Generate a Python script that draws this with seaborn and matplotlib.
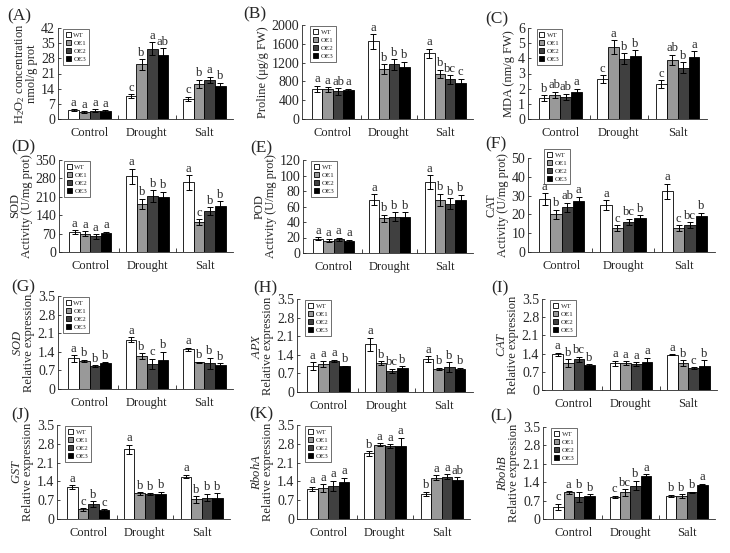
"""Physiological indices and gene expression of WT and OE lines under control, drought and salt."""
import matplotlib
matplotlib.use("Agg")
import matplotlib.pyplot as plt
import numpy as np
import pandas as pd
import seaborn as sns

sns.set_style("ticks")
plt.rcParams["font.family"] = ["Liberation Serif", "DejaVu Serif"]
plt.rcParams["mathtext.fontset"] = "custom"
plt.rcParams["mathtext.rm"] = "Liberation Serif"
plt.rcParams["mathtext.it"] = "Liberation Serif:italic"

TREATMENTS = ["Control", "Drought", "Salt"]
LINES = ["WT", "OE1", "OE2", "OE3"]
PALETTE = ["white", "#999999", "#404040", "black"]

# values per treatment: [WT, OE1, OE2, OE3]
h2o2_mean = [[4.0, 3.1, 3.9, 3.7], [10.5, 25.2, 32.4, 29.6], [9.3, 16.1, 18.1, 15.3]]
h2o2_err = [[0.5, 0.4, 0.5, 0.4], [1.0, 2.5, 3.0, 3.0], [1.0, 2.0, 1.5, 1.5]]
h2o2_sig = [["a", "a", "a", "a"], ["c", "b", "a", "ab"], ["c", "b", "a", "b"]]

proline_mean = [[645, 631, 589, 624], [1650, 1057, 1163, 1113], [1397, 957, 844, 773]]
proline_err = [[60, 50, 70, 20], [150, 110, 110, 110], [100, 90, 90, 80]]
proline_sig = [["a", "a", "ab", "a"], ["a", "b", "b", "b"], ["a", "b", "bc", "c"]]

mda_mean = [[1.37, 1.59, 1.48, 1.79], [2.62, 4.74, 3.97, 4.15], [2.29, 3.88, 3.38, 4.08]]
mda_err = [[0.2, 0.2, 0.2, 0.2], [0.25, 0.45, 0.35, 0.4], [0.25, 0.35, 0.35, 0.4]]
mda_sig = [["b", "ab", "ab", "a"], ["c", "a", "b", "b"], ["c", "ab", "b", "a"]]

sod_mean = [[75, 70, 59, 71], [288, 183, 214, 209], [265, 114, 155, 176]]
sod_err = [[8, 8, 8, 6], [28, 20, 22, 20], [28, 10, 15, 18]]
sod_sig = [["a", "a", "a", "a"], ["a", "b", "b", "b"], ["a", "c", "b", "b"]]

pod_mean = [[18.4, 16.0, 18.0, 15.0], [68.6, 44.6, 46.7, 46.7], [91.3, 68.6, 63.4, 68.1]]
pod_err = [[2, 2, 2, 2], [7, 5, 6, 6], [9, 8, 7, 7]]
pod_sig = [["a", "a", "a", "a"], ["a", "b", "b", "b"], ["a", "b", "b", "b"]]

cat_mean = [[28.2, 20.0, 23.8, 26.9], [25.1, 12.8, 16.1, 18.0], [32.3, 12.8, 14.4, 19.0]]
cat_err = [[3.0, 2.5, 2.5, 2.5], [2.5, 1.5, 1.5, 1.5], [4.0, 1.5, 1.5, 2.0]]
cat_sig = [["a", "b", "ab", "a"], ["a", "c", "bc", "b"], ["a", "c", "bc", "b"]]

sod_expr_mean = [[1.15, 1.05, 0.86, 0.99], [1.86, 1.24, 0.94, 1.10], [1.50, 1.00, 0.96, 0.90]]
sod_expr_err = [[0.12, 0.05, 0.03, 0.02], [0.08, 0.10, 0.20, 0.30], [0.06, 0.02, 0.22, 0.06]]
sod_expr_sig = [["a", "b", "b", "b"], ["a", "b", "c", "b"], ["a", "b", "b", "b"]]

apx_mean = [[0.98, 1.06, 1.17, 0.96], [1.79, 1.08, 0.80, 0.91], [1.24, 0.88, 0.95, 0.86]]
apx_err = [[0.15, 0.12, 0.05, 0.02], [0.25, 0.08, 0.08, 0.05], [0.10, 0.04, 0.18, 0.05]]
apx_sig = [["a", "a", "a", "b"], ["a", "b", "bc", "b"], ["a", "b", "b", "b"]]

cat_expr_mean = [[1.37, 1.03, 1.18, 0.96], [1.03, 1.03, 0.99, 1.09], [1.35, 1.03, 0.83, 0.94]]
cat_expr_err = [[0.06, 0.15, 0.10, 0.03], [0.10, 0.08, 0.08, 0.15], [0.02, 0.12, 0.04, 0.20]]
cat_expr_sig = [["a", "b", "bc", "b"], ["a", "a", "a", "a"], ["a", "b", "c", "b"]]

gst_mean = [[1.18, 0.36, 0.56, 0.33], [2.59, 0.95, 0.92, 0.94], [1.58, 0.73, 0.80, 0.80]]
gst_err = [[0.08, 0.05, 0.10, 0.04], [0.18, 0.05, 0.04, 0.08], [0.06, 0.12, 0.14, 0.15]]
gst_sig = [["a", "c", "b", "c"], ["a", "b", "b", "b"], ["a", "b", "b", "b"]]

rboha_mean = [[1.12, 1.14, 1.24, 1.36], [2.44, 2.77, 2.72, 2.73], [0.93, 1.54, 1.58, 1.45]]
rboha_err = [[0.08, 0.15, 0.18, 0.18], [0.08, 0.05, 0.06, 0.30], [0.08, 0.08, 0.08, 0.10]]
rboha_sig = [["a", "a", "a", "a"], ["b", "a", "a", "a"], ["b", "a", "a", "ab"]]

rbohb_mean = [[0.46, 1.01, 0.84, 0.89], [0.84, 1.01, 1.27, 1.65], [0.87, 0.86, 1.01, 1.31]]
rbohb_err = [[0.12, 0.05, 0.20, 0.05], [0.05, 0.12, 0.18, 0.05], [0.05, 0.08, 0.03, 0.03]]
rbohb_sig = [["c", "a", "b", "b"], ["c", "bc", "b", "a"], ["b", "b", "b", "a"]]

EXPR_TICKS = [0, 0.7, 1.4, 2.1, 2.8, 3.5]
EXPR_LABELS = ["0", "0.7", "1.4", "2.1", "2.8", "3.5"]

# (tag, mean, err, sig, yticks, ytick labels, ylabel,
#  axes rect in pixels x0,x1,y_top,y_bottom, tag pos, legend anchor)
PANELS = [
    ("(A)", h2o2_mean, h2o2_err, h2o2_sig, [0, 7, 14, 21, 28, 35, 42], None,
     "H$_2$O$_2$ concentration\nnmol/g prot", (58, 233, 28, 119), (7, 16), (0.02, 1.0)),
    ("(B)", proline_mean, proline_err, proline_sig, [0, 400, 800, 1200, 1600, 2000], None,
     "Proline (\u03bcg/g FW)", (302, 473, 25, 119), (243, 14), (0.04, 1.0)),
    ("(C)", mda_mean, mda_err, mda_sig, [0, 1, 2, 3, 4, 5, 6], None,
     "MDA (nm/g FW)", (528, 707, 28, 119), (485, 19), (0.04, 1.0)),
    ("(D)", sod_mean, sod_err, sod_sig, [0, 70, 140, 210, 280, 350], None,
     "SOD\nActivity (U/mg prot)", (59, 233, 160, 252), (11, 147), (0.02, 1.0)),
    ("(E)", pod_mean, pod_err, pod_sig, [0, 20, 40, 60, 80, 100, 120], None,
     "POD\nActivity (U/mg prot)", (303, 473, 160, 253), (250, 148), (0.04, 1.0)),
    ("(F)", cat_mean, cat_err, cat_sig, [0, 10, 20, 30, 40, 50], None,
     "CAT\nActivity (U/mg prot)", (528, 715, 158, 252), (485, 144), (0.08, 1.11)),
    ("(G)", sod_expr_mean, sod_expr_err, sod_expr_sig, EXPR_TICKS, EXPR_LABELS,
     "$\\mathit{SOD}$\nRelative expression", (58, 233, 296, 389), (11, 287), (0.02, 1.0)),
    ("(H)", apx_mean, apx_err, apx_sig, EXPR_TICKS, EXPR_LABELS,
     "$\\mathit{APX}$\nRelative expression", (297, 473, 299, 392), (253, 288), (0.04, 1.0)),
    ("(I)", cat_expr_mean, cat_expr_err, cat_expr_sig, EXPR_TICKS, EXPR_LABELS,
     "$\\mathit{CAT}$\nRelative expression", (542, 717, 299, 390), (491, 288), (0.04, 1.0)),
    ("(J)", gst_mean, gst_err, gst_sig, EXPR_TICKS, EXPR_LABELS,
     "$\\mathit{GST}$\nRelative expression", (57, 230, 425, 519), (11, 415), (0.04, 1.0)),
    ("(K)", rboha_mean, rboha_err, rboha_sig, EXPR_TICKS, EXPR_LABELS,
     "$\\mathit{RbohA}$\nRelative expression", (297, 470, 425, 519), (249, 414), (0.04, 1.0)),
    ("(L)", rbohb_mean, rbohb_err, rbohb_sig, EXPR_TICKS, EXPR_LABELS,
     "$\\mathit{RbohB}$\nRelative expression", (543, 715, 427, 519), (490, 416), (0.04, 1.0)),
]

W, H = 730, 553


def draw(ax, mean, err, sig, yticks, ylabels, ylabel, leg_anchor):
    df = pd.DataFrame({
        "treat": np.repeat(TREATMENTS, len(LINES)),
        "line": LINES * len(TREATMENTS),
        "val": np.ravel(mean),
    })
    sns.barplot(data=df, x="treat", y="val", hue="line", hue_order=LINES,
                palette=PALETTE, edgecolor="black", linewidth=0.6, width=0.74,
                errorbar=None, ax=ax)
    top = yticks[-1]
    bars = list(ax.containers)
    for h, cont in enumerate(bars):
        for t, p in enumerate(cont.patches):
            x = p.get_x() + p.get_width() / 2
            y = p.get_height()
            e = err[t][h]
            ax.errorbar(x, y, yerr=e, color="black", capsize=2, elinewidth=0.7,
                        capthick=0.7, fmt="none")
            ax.text(x, y + e + top * 0.005, sig[t][h], ha="center", va="bottom",
                    fontsize=9)
    ax.set_ylim(0, top)
    ax.set_xlim(-0.55, 2.5)
    ax.set_yticks(yticks)
    if ylabels is not None:
        ax.set_yticklabels(ylabels)
    ax.set_xticks([0, 1, 2])
    ax.set_xticks([0.5, 1.5], minor=True)
    ax.tick_params(axis="x", which="major", length=0, labelsize=9, pad=6)
    ax.tick_params(axis="x", which="minor", direction="in", length=3, width=0.6)
    ax.tick_params(axis="y", direction="in", length=2.5, width=0.6, labelsize=10, pad=2)
    ax.set_xlabel("")
    ax.set_ylabel(ylabel, fontsize=9, labelpad=2, linespacing=0.9)
    for s in ["left", "bottom"]:
        ax.spines[s].set_linewidth(0.6)
    sns.despine(ax=ax)
    leg = ax.legend(loc="upper left", bbox_to_anchor=leg_anchor, fontsize=5,
                    frameon=True, fancybox=False, edgecolor="black",
                    handlelength=0.7, handleheight=0.7, borderpad=0.4,
                    labelspacing=0.3, handletextpad=0.4, borderaxespad=0.2)
    leg.get_frame().set_linewidth(0.5)


fig = plt.figure(figsize=(7.3, 5.53), dpi=100)
for tag, mean, err, sig, yt, yl, ylab, (x0, x1, yt0, yb0), (tx, ty), anchor in PANELS:
    ax = fig.add_axes([x0 / W, (H - yb0) / H, (x1 - x0) / W, (yb0 - yt0) / H])
    draw(ax, mean, err, sig, yt, yl, ylab, anchor)
    fig.text(tx / W, 1 - ty / H, tag, ha="left", va="center", fontsize=12.5)

plt.savefig("out.png", dpi=100)
plt.close()
